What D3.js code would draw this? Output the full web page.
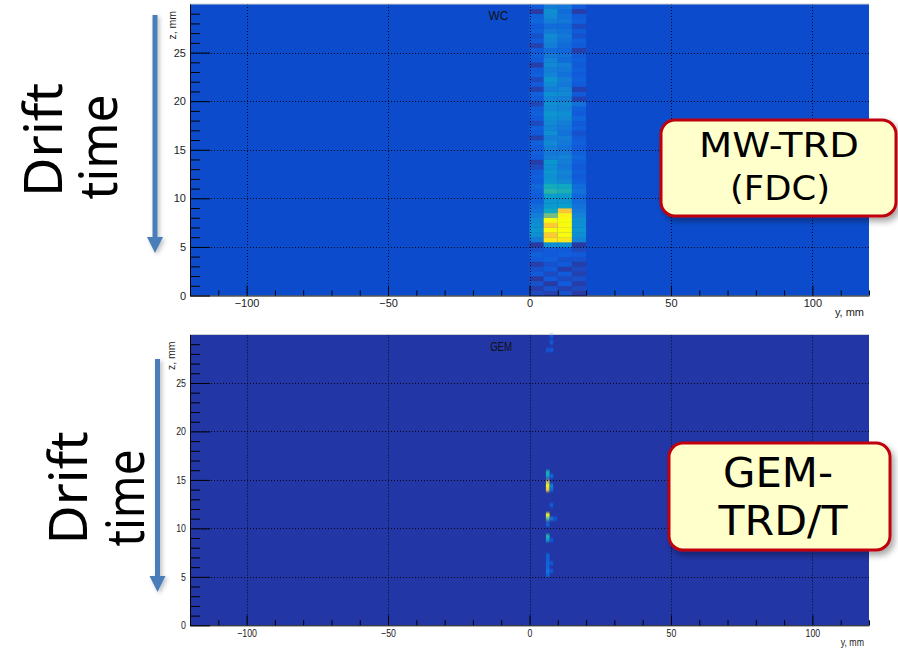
<!DOCTYPE html>
<html>
<head>
<meta charset="utf-8">
<script src="https://cdn.jsdelivr.net/npm/d3@7"></script>
<style>
  body { margin: 0; background: #fff; }
  svg { display: block; }
</style>
</head>
<body>
<svg id="chart" width="898" height="651"></svg>
<script>
// ---------- data ----------
// Axis ranges and tick values (mm)
const yRange = [-120, 120];
const zRange = [0, 30];
const xTicksMajor = [-100, -50, 0, 50, 100];
const xTicksMinor = d3.range(-110, 121, 10).filter(v => v % 50 !== 0);
const zTicksMajor = [0, 5, 10, 15, 20, 25];
const zTicksMinor = d3.range(1, 30, 1).filter(v => v % 5 !== 0);

// WC (MW-TRD) histogram: 4 columns of 5 mm in y, rows of 0.5 mm in z (z = 0 .. 30)
const wcColEdges = [0, 5, 10, 15];
const wcColWidth = 5;
const wcRowHeight = 0.5;
const wcCol0 = [8,5,10,4,12,10,5,12,14,10, 4,22,30,32,30,28,24,20,18,14,
                12,14,16,12,14,12,8,5,12,14, 12,14,6,12,14,8,12,14,12,7,
                12,14,6,12,8,14,12,5,12,14, 12,6,12,10,14,12,16,14,4,12];
const wcCol1 = [6,10,4,12,8,12,10,14,12,12, 30,95,88,100,88,100,60,40,34,32,
                36,48,42,32,30,32,30,33,24,22, 24,28,24,30,26,28,30,32,28,30,
                26,30,24,28,32,26,24,28,26,22, 18,24,26,28,22,18,24,28,30,24];
const wcCol2 = [10,6,12,8,12,5,12,10,14,12, 30,95,100,100,100,100,98,85,36,32,
                34,44,40,28,24,26,22,24,26,22, 20,22,24,20,22,24,28,30,26,28,
                24,28,26,22,24,20,22,24,18,20, 16,18,20,22,20,18,22,20,18,22];
const wcCol3 = [4,8,5,10,6,8,5,10,12,8, 4,26,30,32,30,30,26,22,20,18,
                16,20,18,14,12,14,12,14,16,14, 12,14,12,10,14,12,16,12,14,20,
                6,12,6,12,14,12,14,12,14,12, 5,12,14,10,12,8,14,12,5,12];
const wcCols = [wcCol0, wcCol1, wcCol2, wcCol3];

// GEM (GEM-TRD/T) hits: lower-left corner of each bin (y, z in mm) and amplitude
const gemBinW = 1.3, gemBinH = 0.4;
const gemY = [7.1,7.1,5.8,7.1, 5.8,5.8,7.1, 5.8,5.8,5.8,7.1,7.1, 7.1,
              5.8,5.8,7.1,8.4,5.8, 5.8,5.8,7.1, 5.8,5.8,5.8,7.1,5.8,5.8,7.1,5.8];
const gemZ = [29.6,29.0,28.2,28.2, 15.6,15.2,15.2, 14.6,14.2,13.8,14.2,13.8, 12.2,
              11.2,10.8,10.8,10.8,10.2, 9.0,8.6,8.6, 7.0,6.6,6.2,6.2,5.8,5.4,5.4,5.0];
const gemV = [12,14,11,13, 45,38,18, 70,100,90,26,18, 14,
              100,55,22,12,16, 48,34,12, 16,14,18,12,16,20,12,16];

// ---------- setup ----------
const svg = d3.select("#chart");
const defs = svg.append("defs");
const shadow = defs.append("filter").attr("id", "shadow")
  .attr("x", "-20%").attr("y", "-20%").attr("width", "150%").attr("height", "160%");
shadow.append("feDropShadow").attr("dx", 3).attr("dy", 4).attr("stdDeviation", 3)
  .attr("flood-color", "#000").attr("flood-opacity", 0.35);
const arrowShadow = defs.append("filter").attr("id", "ashadow")
  .attr("x", "-100%").attr("y", "-10%").attr("width", "300%").attr("height", "120%");
arrowShadow.append("feDropShadow").attr("dx", 2).attr("dy", 2).attr("stdDeviation", 2)
  .attr("flood-color", "#000").attr("flood-opacity", 0.25);
defs.append("filter").attr("id", "soft")
  .attr("x", "-50%").attr("y", "-5%").attr("width", "200%").attr("height", "110%")
  .append("feGaussianBlur").attr("stdDeviation", "0.7 1");

// ROOT "kBird" palette
const bird = ["#352a87","#0f5cdd","#1481d6","#06a4ca","#2eb7a4","#87bf77","#d1bb59","#fec832","#f9fb0e"];
const color = d3.scaleLinear().domain(d3.range(9).map(i => i / 8)).range(bird).clamp(true);

const x = d3.scaleLinear().domain(yRange).range([190, 869]);

function panel(p) {
  const z = d3.scaleLinear().domain(zRange).range([p.bottom, p.top]);
  const g = svg.append("g");
  g.append("rect").attr("x", x(yRange[0])).attr("y", p.top)
    .attr("width", x(yRange[1]) - x(yRange[0])).attr("height", p.bottom - p.top)
    .attr("fill", p.bg);
  const cells = g.append("g");
  const deco = () => {
    // dotted grid at major ticks
    const grid = g.append("g").attr("stroke", "#000").attr("stroke-width", 1)
      .attr("stroke-dasharray", "1,2").attr("opacity", 0.85);
    grid.selectAll(".gx").data(xTicksMajor).join("line")
      .attr("x1", d => Math.round(x(d)) + 0.5).attr("x2", d => Math.round(x(d)) + 0.5)
      .attr("y1", p.top).attr("y2", p.bottom);
    grid.selectAll(".gz").data(zTicksMajor.filter(d => d > 0)).join("line")
      .attr("y1", d => Math.round(z(d)) + 0.5).attr("y2", d => Math.round(z(d)) + 0.5)
      .attr("x1", x(yRange[0])).attr("x2", x(yRange[1]));
    // top edge
    g.append("line").attr("x1", x(yRange[0])).attr("x2", x(yRange[1]))
      .attr("y1", p.top).attr("y2", p.top).attr("stroke", "#d0d0d0");

    const font = "'Liberation Sans', Arial, sans-serif";
    // the lower frame uses horizontally condensed lettering
    const squeeze = sel => {
      if (!p.narrow) return;
      sel.each(function () {
        const w = this.getComputedTextLength();
        d3.select(this).attr("textLength", w * 0.8).attr("lengthAdjust", "spacingAndGlyphs");
      });
    };
    const styleAxis = sel => {
      sel.selectAll("text").attr("font-family", font).attr("font-size", 11).attr("fill", "#222")
        .call(squeeze);
      sel.selectAll("line").attr("stroke", "#000");
      sel.select(".domain").attr("stroke", "#000");
    };
    // x axis
    g.append("g").attr("transform", `translate(0,${p.bottom})`)
      .call(d3.axisBottom(x).tickValues(xTicksMinor).tickSize(-5).tickFormat(""))
      .call(a => a.select(".domain").remove()).call(styleAxis);
    g.append("g").attr("transform", `translate(0,${p.bottom})`)
      .call(d3.axisBottom(x).tickValues(xTicksMajor).tickSize(-10).tickSizeOuter(0).tickPadding(4))
      .call(styleAxis);
    // z axis
    g.append("g").attr("transform", `translate(${x(yRange[0])},0)`)
      .call(d3.axisLeft(z).tickValues(zTicksMinor).tickSize(-10).tickFormat(""))
      .call(a => a.select(".domain").remove()).call(styleAxis);
    g.append("g").attr("transform", `translate(${x(yRange[0])},0)`)
      .call(d3.axisLeft(z).tickValues(zTicksMajor).tickSize(-20).tickSizeOuter(0).tickPadding(4))
      .call(styleAxis);

    g.append("text").attr("x", 864).attr("y", p.bottom + 20.5)
      .attr("text-anchor", "end").attr("font-family", font).attr("font-size", 11)
      .attr("fill", "#222").text("y, mm").call(squeeze);
    g.append("text").attr("transform", `translate(${p.zLabelX},${p.top + 7}) rotate(-90)`)
      .attr("text-anchor", "end").attr("font-family", font).attr("font-size", 10.5)
      .attr("fill", "#222").text("z, mm");
    g.append("text").attr("x", p.titleX).attr("y", p.top + 16)
      .attr("text-anchor", "end").attr("font-family", font).attr("font-size", 12)
      .attr("fill", "#111").text(p.title).call(squeeze);
  };
  return { g, z, cells, deco };
}

// ---------- WC panel ----------
const wcPanel = panel({ top: 4, bottom: 295.5, bg: "#0c4ccc", title: "WC", titleX: 508.5, zLabelX: 175.5 });
const wcData = [];
wcCols.forEach((col, c) => col.forEach((v, i) => wcData.push({ y0: wcColEdges[c], z0: i * wcRowHeight, v })));
wcPanel.cells.selectAll("rect").data(wcData).join("rect")
  .attr("x", d => x(d.y0))
  .attr("y", d => wcPanel.z(d.z0 + wcRowHeight))
  .attr("width", d => x(d.y0 + wcColWidth) - x(d.y0))
  .attr("height", d => wcPanel.z(d.z0) - wcPanel.z(d.z0 + wcRowHeight) + 0.3)
  .attr("fill", d => color(d.v / 100));
wcPanel.deco();

// ---------- GEM panel ----------
const gemPanel = panel({ top: 334.5, bottom: 625.3, bg: "#2236a6", title: "GEM", titleX: 512, zLabelX: 175, narrow: true });
const gemData = gemY.map((y0, i) => ({ y0, z0: gemZ[i], v: gemV[i] }));
gemPanel.cells.attr("filter", "url(#soft)").selectAll("rect").data(gemData).join("rect")
  .attr("x", d => x(d.y0))
  .attr("y", d => gemPanel.z(d.z0 + gemBinH))
  .attr("width", d => x(d.y0 + gemBinW) - x(d.y0))
  .attr("height", d => gemPanel.z(d.z0) - gemPanel.z(d.z0 + gemBinH))
  .attr("fill", d => color(d.v / 100));
gemPanel.deco();

// ---------- annotations ----------
const handFont = "'Noto Sans', 'DejaVu Sans', sans-serif";
const boxFont = "'DejaVu Sans', 'Noto Sans', sans-serif";

function driftLabel(a) {
  const g = svg.append("g");
  g.append("text").attr("transform", `translate(${a.driftX},${a.driftY}) rotate(-90)`)
    .attr("text-anchor", "middle").attr("font-family", handFont).attr("font-size", 52)
    .attr("textLength", a.driftLen).attr("lengthAdjust", "spacingAndGlyphs")
    .attr("fill", "#000").text("Drift");
  g.append("text").attr("transform", `translate(${a.timeX},${a.timeY}) rotate(-90)`)
    .attr("text-anchor", "middle").attr("font-family", handFont).attr("font-size", 52)
    .attr("textLength", a.timeLen).attr("lengthAdjust", "spacingAndGlyphs")
    .attr("fill", "#000").text("time");
  // downward arrow
  const ax = a.arrowX, y0 = a.arrowTop, y1 = a.arrowTip, hw = 8, sw = 2.5, hl = 16;
  g.append("path").attr("filter", "url(#ashadow)").attr("fill", "#4a7ebb")
    .attr("d", `M${ax - sw},${y0} L${ax + sw},${y0} L${ax + sw},${y1 - hl} L${ax + hw},${y1 - hl}
                L${ax},${y1} L${ax - hw},${y1 - hl} L${ax - sw},${y1 - hl} Z`);
}
driftLabel({ driftX: 62, driftY: 140, driftLen: 114, timeX: 117, timeY: 147, timeLen: 105,
             arrowX: 155, arrowTop: 15, arrowTip: 253 });
driftLabel({ driftX: 87, driftY: 488, driftLen: 113, timeX: 144, timeY: 498, timeLen: 97,
             arrowX: 157.5, arrowTop: 359, arrowTip: 592 });

function callout(b) {
  const g = svg.append("g");
  g.append("rect").attr("x", b.x).attr("y", b.y).attr("width", b.w).attr("height", b.h)
    .attr("rx", 14).attr("fill", "#ffffcc").attr("stroke", "#c00010").attr("stroke-width", 3)
    .attr("filter", "url(#shadow)");
  b.lines.forEach(l => {
    g.append("text").attr("x", l.cx).attr("y", l.base).attr("text-anchor", "middle")
      .attr("font-family", boxFont).attr("font-size", b.fs)
      .attr("textLength", l.len).attr("lengthAdjust", "spacingAndGlyphs")
      .attr("fill", "#000").text(l.t);
  });
}
callout({ x: 661, y: 120, w: 235, h: 96, fs: 34,
          lines: [{ t: "MW-TRD", cx: 779, base: 157, len: 160 },
                  { t: "(FDC)", cx: 780, base: 200, len: 100 }] });
callout({ x: 669, y: 443, w: 221, h: 107, fs: 40,
          lines: [{ t: "GEM-", cx: 778, base: 487, len: 110 },
                  { t: "TRD/T", cx: 783, base: 535, len: 129 }] });
</script>
</body>
</html>
